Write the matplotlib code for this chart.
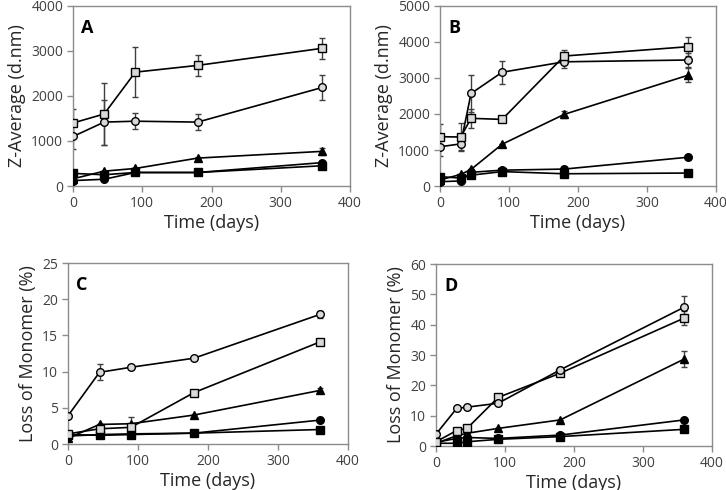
import matplotlib
matplotlib.use("Agg")
import matplotlib.pyplot as plt

plt.rcParams['font.family'] = ['Open Sans', 'DejaVu Sans']

# ---------------- data ----------------
days_AC = [0, 45, 90, 180, 360]
days_BD = [0, 30, 45, 90, 180, 360]

# Panel A (Z-Average, d.nm)
A_open_sq = [1400, 1600, 2530, 2680, 3060]
A_open_sq_err = [300, 690, 550, 235, 235]
A_open_ci = [1100, 1420, 1440, 1420, 2190]
A_open_ci_err = [270, 500, 180, 170, 270]
A_fill_tri = [160, 330, 390, 620, 770]
A_fill_tri_err = [0, 0, 0, 30, 80]
A_fill_ci = [120, 150, 300, 300, 520]
A_fill_sq = [280, 250, 300, 300, 450]

# Panel B (Z-Average, d.nm)
B_open_sq = [1370, 1360, 1880, 1850, 3610, 3870]
B_open_sq_err = [350, 380, 260, 0, 170, 270]
B_open_ci = [1090, 1170, 2570, 3160, 3450, 3500]
B_open_ci_err = [270, 170, 520, 320, 170, 200]
B_fill_tri = [170, 320, 460, 1160, 1990, 3080]
B_fill_tri_err = [0, 0, 0, 0, 100, 200]
B_fill_ci = [120, 140, 380, 440, 470, 800]
B_fill_sq = [260, 220, 300, 400, 340, 360]

# Panel C (Loss of Monomer, %)
C_open_ci = [3.9, 9.9, 10.6, 11.85, 17.9]
C_open_ci_err = [0, 1.1, 0.3, 0, 0.5]
C_open_sq = [1.4, 2.1, 2.3, 7.1, 14.1]
C_open_sq_err = [0, 0, 1.4, 0, 0.2]
C_fill_tri = [0.8, 2.7, 2.8, 4.0, 7.4]
C_fill_tri_err = [0, 0, 0, 0, 0.3]
C_fill_ci = [1.1, 1.3, 1.4, 1.5, 3.3]
C_fill_sq = [1.3, 1.2, 1.3, 1.5, 2.0]

# Panel D (Loss of Monomer, %)
D_open_ci = [3.9, 12.4, 12.8, 14.1, 25.1, 45.8]
D_open_ci_err = [0, 0, 0, 0, 0.8, 3.5]
D_open_sq = [1.4, 5.1, 5.8, 16.0, 24.0, 42.2]
D_open_sq_err = [0, 0, 0, 0, 0.8, 2.3]
D_fill_tri = [0.9, 3.4, 4.2, 5.8, 8.6, 28.7]
D_fill_tri_err = [0, 0, 0, 0, 0, 2.5]
D_fill_ci = [1.2, 2.5, 2.8, 2.5, 3.6, 8.6]
D_fill_sq = [0.9, 0.9, 1.4, 2.2, 3.1, 5.5]

x_ticks = [0, 100, 200, 300, 400]

# ---------------- figure ----------------
W, H = 726, 490
fig = plt.figure(figsize=(W / 100, H / 100), dpi=100)

def ax_at(l, t, r, b):
    return fig.add_axes([l / W, 1 - b / H, (r - l) / W, (b - t) / H])

frame = '#8c8c8c'
tick_col = '#404040'

def style(ax, ymax, ystep, ylabel, letter):
    ax.set_xlim(0, 400)
    ax.set_ylim(0, ymax)
    ax.set_xticks(x_ticks)
    ax.set_yticks(list(range(0, ymax + 1, ystep)))
    for s in ax.spines.values():
        s.set_color(frame)
        s.set_linewidth(1.0)
    ax.tick_params(direction='out', length=4, width=1, color=frame,
                   labelsize=10, labelcolor=tick_col, pad=3)
    ax.set_xlabel('Time (days)', fontsize=13, color='#262626', labelpad=2)
    ax.set_ylabel(ylabel, fontsize=13, color='#262626', labelpad=4)
    ax.text(0.03, 0.93, letter, transform=ax.transAxes, fontsize=13,
            fontweight='bold', color='black', va='top', ha='left')

def series(ax, x, y, marker, filled, err=None):
    fc = 'black' if filled else '#d9d9d9'
    if err is not None:
        ax.errorbar(x, y, yerr=err, fmt='none', ecolor='#404040',
                    elinewidth=1, capsize=2.5, capthick=1, zorder=2)
    ax.plot(x, y, color='black', lw=1.2, marker=marker, ms=5.5,
            mfc=fc, mec='black', mew=1.0, zorder=3)

# Panel A
axA = ax_at(73, 6, 350, 186)
style(axA, 4000, 1000, 'Z-Average (d.nm)', 'A')
series(axA, days_AC, A_fill_sq, 's', True)
series(axA, days_AC, A_fill_ci, 'o', True)
series(axA, days_AC, A_fill_tri, '^', True, A_fill_tri_err)
series(axA, days_AC, A_open_ci, 'o', False, A_open_ci_err)
series(axA, days_AC, A_open_sq, 's', False, A_open_sq_err)

# Panel B
axB = ax_at(440, 6, 716, 186)
style(axB, 5000, 1000, 'Z-Average (d.nm)', 'B')
series(axB, days_BD, B_fill_sq, 's', True)
series(axB, days_BD, B_fill_ci, 'o', True)
series(axB, days_BD, B_fill_tri, '^', True, B_fill_tri_err)
series(axB, days_BD, B_open_ci, 'o', False, B_open_ci_err)
series(axB, days_BD, B_open_sq, 's', False, B_open_sq_err)

# Panel C
axC = ax_at(68, 263, 348, 444)
style(axC, 25, 5, 'Loss of Monomer (%)', 'C')
series(axC, days_AC, C_fill_sq, 's', True)
series(axC, days_AC, C_fill_ci, 'o', True)
series(axC, days_AC, C_fill_tri, '^', True, C_fill_tri_err)
series(axC, days_AC, C_open_sq, 's', False, C_open_sq_err)
series(axC, days_AC, C_open_ci, 'o', False, C_open_ci_err)

# Panel D
axD = ax_at(436, 264, 712, 446)
style(axD, 60, 10, 'Loss of Monomer (%)', 'D')
series(axD, days_BD, D_fill_sq, 's', True)
series(axD, days_BD, D_fill_ci, 'o', True)
series(axD, days_BD, D_fill_tri, '^', True, D_fill_tri_err)
series(axD, days_BD, D_open_sq, 's', False, D_open_sq_err)
series(axD, days_BD, D_open_ci, 'o', False, D_open_ci_err)

fig.savefig('out.png', dpi=100)
